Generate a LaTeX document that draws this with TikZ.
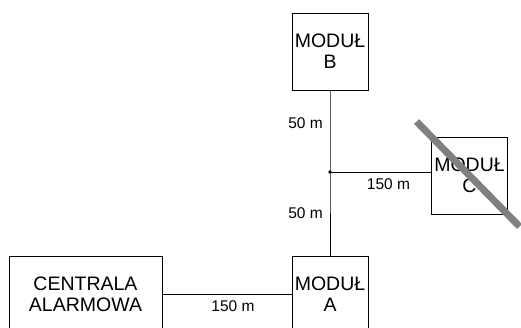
\documentclass[tikz,border=0pt]{standalone}
\usepackage{fontspec}
\setmainfont{Liberation Sans}
\usetikzlibrary{calc}
\definecolor{strikegray}{RGB}{128,128,128}

\begin{document}
\begin{tikzpicture}[x=1pt, y=-1pt,
    modbox/.style={draw, semithick, align=center, minimum width=76pt, minimum height=77pt,
                   inner sep=0pt, font=\fontsize{19.5}{21}\selectfont},
    dist/.style={font=\fontsize{15.5}{17}\selectfont, inner sep=0pt}]
    \useasboundingbox (0,0) rectangle (521,327);
    \clip (0,0) rectangle (521,327);
    \node[modbox] (modB) at (330,51.5) {MODUŁ\\B};
    \node[modbox] (modA) at (330,294.5) {MODUŁ\\A};
    \node[modbox] (modC) at (469.5,175.5) {MODUŁ\\C};
    \node[modbox, minimum width=153pt] (central) at (85.5,294.5) {CENTRALA\\ALARMOWA};
    \coordinate (junc) at (330,172);
    \draw (modB) -- (junc) -- (modA);
    \draw (junc) -- (junc -| modC.west);
    \draw (central.east |- modA.west) -- (modA.west);
    \fill (junc) circle (1.8pt);
    \node[dist, anchor=east] (lenB) at (323,123) {50 m};
    \node[dist, anchor=east] (lenA) at (323,213) {50 m};
    \node[dist] (lenC) at (388.5,184) {150 m};
    \node[dist] (lenCA) at (233,306.5) {150 m};
    % module C crossed out
    \draw[strikegray, line width=7pt] ($(modC.center)+(-53,-54)$) -- ($(modC.center)+(50,51)$);
  \end{tikzpicture}
\end{document}
